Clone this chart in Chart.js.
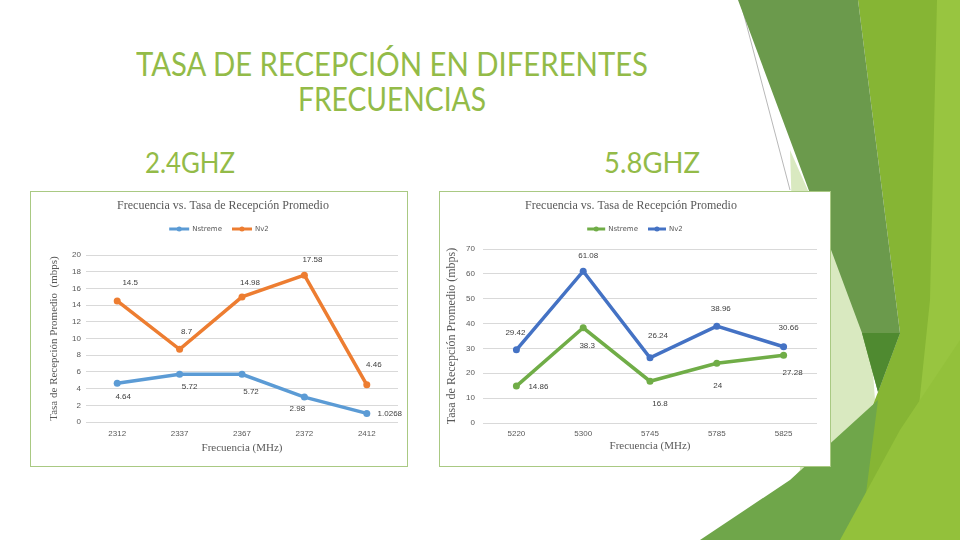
<!DOCTYPE html>
<html>
<head>
<meta charset="utf-8">
<script src="https://cdn.jsdelivr.net/npm/chart.js@4.4.0/dist/chart.umd.min.js"></script>
<style>
  html, body { margin: 0; padding: 0; }
  body { width: 960px; height: 540px; position: relative; overflow: hidden; background: #fff; font-family: Lato, sans-serif; }
  #deco { position: absolute; left: 0; top: 0; }
  .head { position: absolute; color: #93bb48; font-weight: 400; white-space: nowrap; line-height: 1; transform-origin: 0 0; }
  .frame { position: absolute; background: #fff; border: 1px solid #a9c983; box-sizing: border-box; }
  canvas { position: absolute; }
</style>
</head>
<body>
<svg id="deco" width="960" height="540">
  <line x1="740" y1="0" x2="790" y2="190" stroke="#b8b8b8" stroke-width="1"/>
  <polygon points="790,150 870,330 875,400 840,470 800,540 740,540 800,470" fill="#d9e9c0"/>
  <polygon points="858,0 960,0 960,540 820,540 878,392 900,333" fill="#86b534"/>
  <polygon points="937,0 960,0 960,540 905,540 930,300" fill="#98c540"/>
  <polygon points="738,0 858,0 900,333 878,392 862,333" fill="#6b9a4c"/>
  <polygon points="862,333 900,333 878,392" fill="#4f8a30"/>
  <polygon points="700,540 790,480 878,400 860,540" fill="#6fa64a"/>
  <polygon points="840,540 900,430 960,340 960,540" fill="#93c13b"/>
</svg>

<div class="head" style="left:136px;top:47px;font-size:33px" data-w="512">TASA DE RECEPCIÓN EN DIFERENTES</div>
<div class="head" style="left:298px;top:82px;font-size:33px" data-w="188">FRECUENCIAS</div>
<div class="head" style="left:145px;top:148px;font-size:28px" data-w="90">2.4GHZ</div>
<div class="head" style="left:604px;top:148px;font-size:28px" data-w="96">5.8GHZ</div>

<div class="frame" style="left:30px;top:191px;width:378px;height:276px"></div>
<canvas id="chart24" width="376" height="274" style="left:31px;top:192px"></canvas>
<div class="frame" style="left:439px;top:191px;width:392px;height:276px"></div>
<canvas id="chart58" width="390" height="274" style="left:440px;top:192px"></canvas>

<script>
// 2.4 GHz band
const freqs24 = ['2312', '2337', '2367', '2372', '2412'];
const nstreme24 = [4.64, 5.72, 5.72, 2.98, 1.0268];
const nv2_24 = [14.5, 8.7, 14.98, 17.58, 4.46];
const yMax24 = 20;
const yStep24 = 2;

// 5.8 GHz band
const freqs58 = ['5220', '5300', '5745', '5785', '5825'];
const nstreme58 = [14.86, 38.3, 16.8, 24, 27.28];
const nv2_58 = [29.42, 61.08, 26.24, 38.96, 30.66];
const yMax58 = 70;
const yStep58 = 10;

const chartTitle = 'Frecuencia vs. Tasa de Recepción Promedio';
const xTitle = 'Frecuencia (MHz)';

// squeeze the slide headings to the width they have on the slide
document.querySelectorAll('.head').forEach(el => {
  const w = el.getBoundingClientRect().width;
  el.style.transform = 'scaleX(' + (el.dataset.w / w) + ')';
});

// value labels next to each point, offsets in px per dataset/point
const valueLabels = {
  id: 'valueLabels',
  afterDatasetsDraw(chart, args, opts) {
    const ctx = chart.ctx;
    ctx.save();
    ctx.font = opts.font;
    ctx.fillStyle = opts.color;
    ctx.textAlign = 'center';
    ctx.textBaseline = 'middle';
    chart.data.datasets.forEach((ds, i) => {
      chart.getDatasetMeta(i).data.forEach((pt, j) => {
        const off = opts.offsets[i][j];
        ctx.fillText(String(ds.data[j]), pt.x + off[0], pt.y + off[1]);
      });
    });
    ctx.restore();
  }
};

// excel-like legend: line with a dot, then the name
const lineLegend = {
  id: 'lineLegend',
  afterDraw(chart, args, opts) {
    const ctx = chart.ctx;
    ctx.save();
    ctx.font = opts.font;
    const items = chart.data.datasets.map(ds => ({ text: ds.label, color: ds.borderColor, w: ctx.measureText(ds.label).width }));
    const total = items.reduce((s, it) => s + opts.marker + opts.gap + it.w, 0) + opts.spacing * (items.length - 1);
    let x = chart.width / 2 - total / 2;
    const y = opts.y;
    items.forEach(it => {
      ctx.strokeStyle = it.color;
      ctx.lineWidth = 3;
      ctx.beginPath();
      ctx.moveTo(x, y);
      ctx.lineTo(x + opts.marker, y);
      ctx.stroke();
      ctx.fillStyle = it.color;
      ctx.beginPath();
      ctx.arc(x + opts.marker / 2, y, 2.5, 0, Math.PI * 2);
      ctx.fill();
      x += opts.marker + opts.gap;
      ctx.fillStyle = opts.color;
      ctx.textAlign = 'left';
      ctx.textBaseline = 'middle';
      ctx.fillText(it.text, x, y);
      x += it.w + opts.spacing;
    });
    ctx.restore();
  }
};

const tickFont = { family: 'Liberation Sans', size: 8 };
const serif = 'Liberation Serif';

const chart24 = new Chart(document.getElementById('chart24').getContext('2d'), {
  type: 'line',
  data: {
    labels: freqs24,
    datasets: [{
      label: 'Nstreme',
      data: nstreme24,
      borderColor: '#5b9bd5',
      backgroundColor: '#5b9bd5',
      borderWidth: 3.5,
      pointRadius: 3.5,
      pointBorderWidth: 0,
      tension: 0
    }, {
      label: 'Nv2',
      data: nv2_24,
      borderColor: '#ed7d31',
      backgroundColor: '#ed7d31',
      borderWidth: 3.5,
      pointRadius: 3.5,
      pointBorderWidth: 0,
      tension: 0
    }]
  },
  options: {
    responsive: false,
    animation: false,
    layout: { padding: { left: 17, right: 9, top: 0, bottom: 6 } },
    plugins: {
      legend: { display: false },
      tooltip: { enabled: false },
      title: {
        display: true,
        text: chartTitle,
        color: '#595959',
        font: { family: serif, size: 12, weight: 'normal' },
        padding: { top: 7, bottom: 41.6 }
      },
      lineLegend: { y: 37, font: '7px "DejaVu Sans"', color: '#595959', marker: 20, gap: 3, spacing: 10 },
      valueLabels: {
        font: '8px "Liberation Sans"',
        color: '#404040',
        offsets: [
          [[6, 14], [10, 13], [9, 18], [-7, 12], [23, 0]],
          [[13, -18], [7, -18], [8, -14], [8, -15], [7, -20]]
        ]
      }
    },
    scales: {
      x: {
        offset: true,
        grid: { display: false, drawTicks: false },
        border: { display: false },
        ticks: { color: '#595959', font: tickFont, padding: 7, maxRotation: 0 },
        title: { display: true, text: xTitle, color: '#595959', font: { family: serif, size: 11 }, padding: { top: 0, bottom: 5 } },
        afterFit(scale) { scale.height = 38; }
      },
      y: {
        min: 0,
        max: yMax24,
        ticks: { stepSize: yStep24, color: '#595959', font: tickFont, padding: 5 },
        grid: { color: '#d9d9d9', drawTicks: false },
        border: { display: false },
        title: { display: true, text: 'Tasa de Recepción Promedio  (mbps)', color: '#595959', font: { family: serif, size: 11 }, padding: 0 },
        afterFit(scale) { scale.width = 38; }
      }
    }
  },
  plugins: [valueLabels, lineLegend]
});

const chart58 = new Chart(document.getElementById('chart58').getContext('2d'), {
  type: 'line',
  data: {
    labels: freqs58,
    datasets: [{
      label: 'Nstreme',
      data: nstreme58,
      borderColor: '#70ad47',
      backgroundColor: '#70ad47',
      borderWidth: 3.5,
      pointRadius: 3.5,
      pointBorderWidth: 0,
      tension: 0
    }, {
      label: 'Nv2',
      data: nv2_58,
      borderColor: '#4472c4',
      backgroundColor: '#4472c4',
      borderWidth: 3.5,
      pointRadius: 3.5,
      pointBorderWidth: 0,
      tension: 0
    }]
  },
  options: {
    responsive: false,
    animation: false,
    layout: { padding: { left: 5, right: 13, top: 0, bottom: 6 } },
    plugins: {
      legend: { display: false },
      tooltip: { enabled: false },
      title: {
        display: true,
        text: chartTitle,
        color: '#595959',
        font: { family: serif, size: 12, weight: 'normal' },
        padding: { top: 7, bottom: 35.6 }
      },
      lineLegend: { y: 37, font: '7px "DejaVu Sans"', color: '#595959', marker: 18, gap: 3, spacing: 10 },
      valueLabels: {
        font: '8px "Liberation Sans"',
        color: '#404040',
        offsets: [
          [[22, 1], [4, 18], [10, 23], [1, 22], [9, 18]],
          [[-1, -17], [5, -15], [8, -22], [4, -17], [5, -19]]
        ]
      }
    },
    scales: {
      x: {
        offset: true,
        grid: { display: false, drawTicks: false },
        border: { display: false },
        ticks: { color: '#595959', font: tickFont, padding: 6, maxRotation: 0 },
        title: { display: true, text: xTitle, color: '#595959', font: { family: serif, size: 11 }, padding: { top: 0, bottom: 7 } },
        afterFit(scale) { scale.height = 37; }
      },
      y: {
        min: 0,
        max: yMax58,
        ticks: { stepSize: yStep58, color: '#595959', font: tickFont, padding: 8 },
        grid: { color: '#d9d9d9', drawTicks: false },
        border: { display: false },
        title: { display: true, text: 'Tasa de Recepción Promedio (mbps)', color: '#595959', font: { family: serif, size: 12 }, padding: 0 },
        afterFit(scale) { scale.width = 38; }
      }
    }
  },
  plugins: [valueLabels, lineLegend]
});
</script>
</body>
</html>
